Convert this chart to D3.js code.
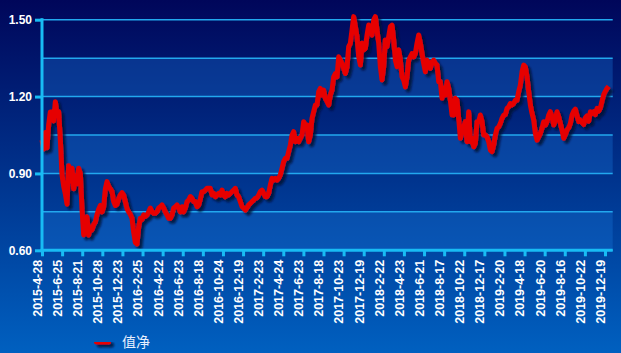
<!DOCTYPE html>
<html>
<head>
<meta charset="utf-8">
<script src="https://cdn.jsdelivr.net/npm/d3@7"></script>
<style>
  html, body { margin: 0; padding: 0; overflow: hidden; }
  svg { display: block; }
</style>
</head>
<body>
<svg></svg>
<script>
// Category labels on the x axis (one every 40 trading days)
const tickLabels = [
  "2015-4-28", "2015-6-25", "2015-8-21", "2015-10-28", "2015-12-23",
  "2016-2-25", "2016-4-22", "2016-6-23", "2016-8-18", "2016-10-24",
  "2016-12-19", "2017-2-23", "2017-4-24", "2017-6-23", "2017-8-18",
  "2017-10-23", "2017-12-19", "2018-2-22", "2018-4-23", "2018-6-21",
  "2018-8-17", "2018-10-22", "2018-12-17", "2019-2-20", "2019-4-18",
  "2019-6-20", "2019-8-16", "2019-10-22", "2019-12-19"
];

// Net value series at even steps
const navValues = [
  1.030, 0.995, 1.060, 1.000, 1.090, 1.140, 1.140, 1.105, 1.180, 1.130,
  1.140, 1.030, 0.894, 0.850, 0.820, 0.780, 0.930, 0.870, 0.920, 0.840,
  0.890, 0.860, 0.920, 0.900, 0.760, 0.660, 0.720, 0.730, 0.660, 0.690,
  0.680, 0.700, 0.710, 0.740, 0.760, 0.775, 0.750, 0.770, 0.840, 0.868,
  0.850, 0.840, 0.830, 0.790, 0.775, 0.780, 0.800, 0.816, 0.825, 0.815,
  0.790, 0.762, 0.750, 0.740, 0.725, 0.670, 0.630, 0.625,
  0.690, 0.725, 0.720, 0.738, 0.732, 0.738, 0.750, 0.765, 0.750, 0.745,
  0.745, 0.750, 0.765, 0.770, 0.777, 0.765, 0.750, 0.738, 0.725, 0.725,
  0.738, 0.765, 0.770, 0.777, 0.765, 0.750, 0.770, 0.750, 0.765, 0.790,
  0.796, 0.810, 0.803, 0.790, 0.790, 0.770, 0.777, 0.800, 0.829, 0.829,
  0.835, 0.842, 0.842, 0.842, 0.816, 0.822, 0.809, 0.816, 0.822, 0.816,
  0.835, 0.816, 0.809, 0.822, 0.816, 0.822, 0.829, 0.835,
  0.842, 0.816, 0.809, 0.790, 0.770, 0.764, 0.757, 0.766, 0.777, 0.783,
  0.790, 0.796, 0.803, 0.805, 0.816, 0.829, 0.835, 0.822, 0.809, 0.809,
  0.822, 0.855, 0.881, 0.874, 0.881, 0.874, 0.881, 0.894, 0.920, 0.946,
  0.959, 0.959, 0.985, 1.011, 1.050, 1.063, 1.024, 1.037, 1.024, 1.037,
  1.050, 1.102, 1.089, 1.089, 1.024, 1.050, 1.115, 1.141, 1.167, 1.167,
  1.219, 1.232, 1.206, 1.225, 1.193, 1.180, 1.167, 1.206,
  1.225, 1.277, 1.290, 1.277, 1.355, 1.342, 1.329, 1.310, 1.290, 1.316,
  1.395, 1.408, 1.460, 1.512, 1.473, 1.434, 1.355, 1.323, 1.408, 1.382,
  1.388, 1.440, 1.479, 1.460, 1.440, 1.499, 1.512, 1.460, 1.408, 1.317,
  1.265, 1.317, 1.421, 1.395, 1.434, 1.473, 1.479, 1.421, 1.342, 1.317,
  1.382, 1.342, 1.277, 1.264, 1.238, 1.277, 1.342, 1.355, 1.368, 1.355,
  1.368, 1.408, 1.440, 1.408, 1.368, 1.329, 1.297, 1.342,
  1.323, 1.310, 1.336, 1.342, 1.329, 1.323, 1.258, 1.258, 1.193, 1.232,
  1.206, 1.258, 1.232, 1.186, 1.128, 1.128, 1.193, 1.186, 1.115, 1.037,
  1.063, 1.082, 1.102, 1.024, 1.141, 1.024, 1.037, 1.004, 1.017, 1.102,
  1.102, 1.128, 1.102, 1.050, 1.050, 1.043, 1.024, 0.991, 0.985, 1.011,
  1.050, 1.076, 1.082, 1.095, 1.115, 1.128, 1.130, 1.154, 1.160, 1.173,
  1.167, 1.173, 1.186, 1.186, 1.219, 1.245, 1.297, 1.323,
  1.316, 1.277, 1.219, 1.167, 1.134, 1.108, 1.056, 1.030, 1.043, 1.056,
  1.076, 1.102, 1.089, 1.102, 1.128, 1.141, 1.121, 1.089, 1.108, 1.141,
  1.121, 1.095, 1.069, 1.037, 1.052, 1.069, 1.078, 1.095, 1.128, 1.143,
  1.151, 1.125, 1.102, 1.108, 1.099, 1.091, 1.117, 1.125, 1.104, 1.141,
  1.134, 1.141, 1.130, 1.154, 1.143, 1.156, 1.182, 1.208, 1.221, 1.232,
  1.240
];

// Gridlines and labelled values on the y axis
const gridValues = [0.60, 0.75, 0.90, 1.05, 1.20, 1.35, 1.50];
const labelValues = [0.60, 0.90, 1.20, 1.50];
const seriesName = "值净";

// Canvas and plot area
const width = 621, height = 353;
const plotLeft = 42, plotRight = 612.7, plotTop = 19.7, plotBottom = 250.3;
const lastTickX = 605, lastPointX = 608.7;

const svg = d3.select("svg")
    .attr("width", width)
    .attr("height", height);

const defs = svg.append("defs");

// Background gradient, dark navy at top to blue at bottom
const grad = defs.append("linearGradient")
    .attr("id", "bg")
    .attr("x1", 0).attr("y1", 0).attr("x2", 0).attr("y2", 1);
grad.append("stop").attr("offset", "0%").attr("stop-color", "#00065a");
grad.append("stop").attr("offset", "100%").attr("stop-color", "#0060c0");

// Drop shadow used by the line and the legend key
const shadow = defs.append("filter")
    .attr("id", "shadow")
    .attr("filterUnits", "userSpaceOnUse")
    .attr("x", 0).attr("y", 0).attr("width", width).attr("height", height);
shadow.append("feDropShadow")
    .attr("dx", 3).attr("dy", 3)
    .attr("stdDeviation", 1.3)
    .attr("flood-color", "#000a30")
    .attr("flood-opacity", 0.8);

svg.append("rect")
    .attr("width", width)
    .attr("height", height)
    .attr("fill", "url(#bg)");

// Scales
const y = d3.scaleLinear()
    .domain([0.6, 1.5])
    .range([plotBottom, plotTop]);

const xTick = d3.scalePoint()
    .domain(tickLabels)
    .range([plotLeft, lastTickX]);

const xLine = d3.scaleLinear()
    .domain([0, navValues.length - 1])
    .range([plotLeft, lastPointX]);

// Alternating lighter bands
const bands = d3.pairs(gridValues).filter((d, i) => i % 2 === 0);
svg.selectAll(".band")
    .data(bands)
    .join("rect")
    .attr("class", "band")
    .attr("x", plotLeft)
    .attr("width", plotRight - plotLeft)
    .attr("y", d => y(d[1]))
    .attr("height", d => y(d[0]) - y(d[1]))
    .attr("fill", "#1a78dc")
    .attr("opacity", 0.32);

// Horizontal gridlines
svg.selectAll(".grid")
    .data(gridValues)
    .join("line")
    .attr("class", "grid")
    .attr("x1", plotLeft)
    .attr("x2", plotRight)
    .attr("y1", d => y(d))
    .attr("y2", d => y(d))
    .attr("stroke", "#22a8ee")
    .attr("stroke-width", 1.5);

// Net value line
const line = d3.line()
    .x((d, i) => xLine(i))
    .y(d => y(d));

svg.append("path")
    .datum(navValues)
    .attr("d", line)
    .attr("fill", "none")
    .attr("stroke", "#e60000")
    .attr("stroke-width", 5)
    .attr("stroke-linejoin", "round")
    .attr("filter", "url(#shadow)");

// Y axis
const yAxis = svg.append("g")
    .attr("transform", `translate(${plotLeft},0)`)
    .call(d3.axisLeft(y)
        .tickValues(labelValues)
        .tickFormat(d3.format(".2f"))
        .tickSize(7)
        .tickPadding(3));
yAxis.select(".domain").remove();
yAxis.selectAll(".tick line")
    .attr("stroke", "#18bcf4")
    .attr("stroke-width", 3);
yAxis.selectAll(".tick text")
    .attr("fill", "#ffffff")
    .style("font-family", "'Liberation Sans', Arial, sans-serif")
    .style("font-weight", "bold")
    .style("font-size", "12px");

svg.append("line")
    .attr("x1", plotLeft).attr("x2", plotLeft)
    .attr("y1", plotTop - 1.5).attr("y2", plotBottom + 1.5)
    .attr("stroke", "#18bcf4")
    .attr("stroke-width", 3);

// X axis
const xAxis = svg.append("g")
    .attr("transform", `translate(0,${plotBottom})`)
    .call(d3.axisBottom(xTick).tickSize(6).tickSizeOuter(0));
xAxis.select(".domain").remove();
xAxis.selectAll(".tick line")
    .attr("stroke", "#18bcf4")
    .attr("stroke-width", 3);
xAxis.selectAll(".tick text")
    .attr("fill", "#ffffff")
    .attr("transform", "rotate(-90)")
    .attr("x", -9.5)
    .attr("y", 0)
    .attr("dy", "-0.05em")
    .attr("text-anchor", "end")
    .style("font-family", "'Liberation Sans', Arial, sans-serif")
    .style("font-weight", "bold")
    .style("font-size", "12.5px");

svg.append("line")
    .attr("x1", plotLeft - 1.5).attr("x2", plotRight)
    .attr("y1", plotBottom).attr("y2", plotBottom)
    .attr("stroke", "#18bcf4")
    .attr("stroke-width", 3);

// Legend
const legend = svg.append("g")
    .attr("transform", "translate(94,342)");
legend.append("rect")
    .attr("x", 0).attr("y", -2.5)
    .attr("width", 17).attr("height", 5)
    .attr("rx", 2.5)
    .attr("fill", "#e60000")
    .attr("filter", "url(#shadow)");
legend.append("text")
    .attr("x", 28)
    .attr("y", 5)
    .attr("fill", "#e8f0ff")
    .style("font-family", "'Noto Sans CJK SC', sans-serif")
    .style("font-size", "14px")
    .text(seriesName);
</script>
</body>
</html>
